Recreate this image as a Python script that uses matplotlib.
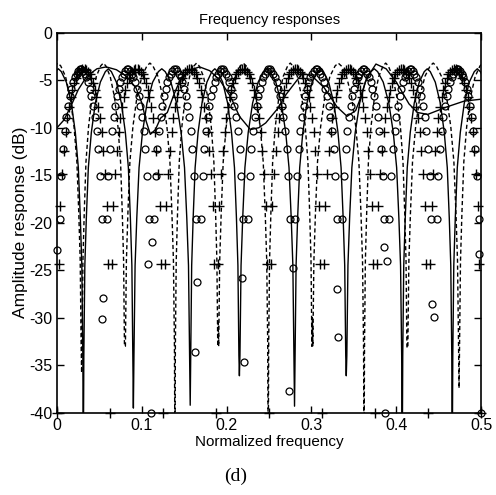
import numpy as np
import matplotlib.pyplot as plt

plt.rcParams['font.family'] = ['Liberation Sans', 'DejaVu Sans']
plt.rcParams['axes.unicode_minus'] = False

# solid curve: null frequencies and how deep each null goes (dB)
solid_nulls = [-0.028, 0.031, 0.090, 0.157, 0.215, 0.280, 0.341, 0.407, 0.466, 0.525]
solid_depths = [-45, -45, -39.5, -39.2, -36.1, -39.3, -36.1, -45, -45, -45]
# dashed curve
dash_nulls = [-0.027, 0.029, 0.080, 0.139, 0.190, 0.249, 0.301, 0.362, 0.413, 0.474, 0.530]
dash_depths = [-45, -35.8, -33.0, -45, -30.5, -45, -30.0, -45, -33.2, -37.4, -45]

# one lobe between two nulls: position as fraction of the lobe, level in dB
lobe_pos = [0.01, 0.03, 0.06, 0.10, 0.16, 0.24, 0.34, 0.44, 0.50, 0.56, 0.66, 0.76, 0.84, 0.90, 0.94, 0.97, 0.99]
solid_lobe_db = [-34, -24.5, -19.5, -14.2, -10.5, -7.4, -5.2, -4.1, -3.8, -4.1, -5.2, -7.4, -10.5, -14.2, -19.5, -24.5, -34]
dash_lobe_db = [-33, -24.0, -19.0, -13.6, -9.9, -6.8, -4.6, -3.5, -3.2, -3.5, -4.6, -6.8, -9.9, -13.6, -19.0, -24.0, -33]

# second solid curve with shallow valleys
solid_b_f = [0.000, 0.008, 0.016, 0.025, 0.035, 0.047, 0.058, 0.070, 0.082, 0.093, 0.100, 0.105,
             0.110, 0.116, 0.122, 0.130, 0.137, 0.145, 0.155, 0.168, 0.180, 0.192, 0.205, 0.215,
             0.228, 0.238, 0.246, 0.261, 0.270, 0.289, 0.300, 0.315, 0.330, 0.342, 0.352, 0.356,
             0.365, 0.376, 0.388, 0.400, 0.415, 0.425, 0.437, 0.460, 0.480, 0.500]
solid_b_db = [-10.0, -9.2, -7.8, -6.0, -4.6, -3.8, -3.6, -3.9, -4.6, -5.8, -7.4, -9.3,
              -10.7, -10.2, -9.0, -8.4, -6.7, -5.0, -4.0, -3.6, -4.0, -5.0, -6.8, -8.8,
              -10.2, -10.0, -9.5, -7.9, -6.5, -4.3, -4.5, -5.8, -7.8, -8.8, -8.2, -7.3,
              -4.8, -3.3, -3.8, -5.2, -7.5, -8.4, -8.6, -7.8, -7.2, -7.0]

# plus markers: nulls, distance from a null and level read at that distance
plus_nulls = [0.0, 0.0625, 0.125, 0.1875, 0.25, 0.3125, 0.375, 0.4375, 0.5]
plus_offsets = [0.002, 0.004, 0.006, 0.008, 0.010, 0.012, 0.014, 0.016, 0.018, 0.020, 0.022, 0.024, 0.026, 0.028, 0.030]
plus_side_db = [-24.3, -18.2, -14.9, -12.4, -10.5, -9.0, -7.8, -6.8, -6.0, -5.3, -4.8, -4.4, -4.1, -3.95, -3.85]

# circle markers
circle_nulls = [0.0, 0.0556, 0.1111, 0.1667, 0.2222, 0.2778, 0.3333, 0.3889, 0.4444, 0.5]
circle_offsets = [0.003, 0.005, 0.007, 0.009, 0.011, 0.013, 0.015, 0.017, 0.019, 0.021, 0.023, 0.025, 0.027]
circle_side_db = [-19.6, -15.1, -12.2, -10.3, -8.9, -7.7, -6.7, -5.9, -5.2, -4.7, -4.3, -4.0, -3.85]
circle_low_f = [0.0, 0.0527, 0.0547, 0.1077, 0.111, 0.1117, 0.163, 0.165, 0.218, 0.220, 0.274, 0.278,
                0.3306, 0.3313, 0.385, 0.387, 0.389, 0.442, 0.444, 0.497, 0.4995]
circle_low_db = [-22.9, -30.1, -27.9, -24.3, -40.0, -22.0, -33.6, -26.2, -25.8, -34.6, -37.7, -24.8,
                 -27.0, -32.0, -22.5, -40.0, -24.0, -28.5, -29.9, -23.3, -40.0]


def build_lobes(nulls, depths, shape):
    f, db = [], []
    for i in range(len(nulls) - 1):
        a, b = nulls[i], nulls[i + 1]
        f.append(a)
        db.append(depths[i])
        for p, v in zip(lobe_pos, shape):
            f.append(a + p * (b - a))
            db.append(v)
    f.append(nulls[-1])
    db.append(depths[-1])
    return f, db


def build_markers(nulls, offsets, levels):
    f, db = [], []
    for c in nulls:
        for d, v in zip(offsets, levels):
            for s in (c - d, c + d):
                if 0 <= s <= 0.5:
                    f.append(s)
                    db.append(v)
    return f, db


fig = plt.figure(figsize=(4.96, 4.95), dpi=100)
ax = fig.add_axes([0.115, 0.166, 0.855, 0.768])

sf, sdb = build_lobes(solid_nulls, solid_depths, solid_lobe_db)
df, ddb = build_lobes(dash_nulls, dash_depths, dash_lobe_db)
ax.plot(sf, sdb, color='black', lw=1.0)
ax.plot(solid_b_f, solid_b_db, color='black', lw=1.0)
ax.plot(df, ddb, color='black', lw=1.0, ls=(0, (3, 2)))

pf, pdb = build_markers(plus_nulls, plus_offsets, plus_side_db)
ax.plot(pf, pdb, '+', color='black', ms=7, mew=1.0, clip_on=False)
ax.plot(plus_nulls, [-40] * len(plus_nulls), '+', color='black', ms=7, mew=1.0, clip_on=False)

cf, cdb = build_markers(circle_nulls, circle_offsets, circle_side_db)
ax.plot(cf, cdb, 'o', mfc='none', mec='black', ms=5, mew=0.9, clip_on=False)
ax.plot(circle_low_f, circle_low_db, 'o', mfc='none', mec='black', ms=5, mew=0.9, clip_on=False)

ax.set_xlim(0, 0.5)
ax.set_ylim(-40, 0)
ax.set_xticks([0, 0.1, 0.2, 0.3, 0.4, 0.5])
ax.set_xticklabels(['0', '0.1', '0.2', '0.3', '0.4', '0.5'])
ax.set_yticks(np.arange(-40, 1, 5))
ax.tick_params(direction='in', top=True, right=True, labelsize=11.5, length=5, width=1.0)
for sp in ax.spines.values():
    sp.set_linewidth(1.2)

ax.set_title('Frequency responses', fontsize=10.5, pad=6)
ax.set_xlabel('Normalized frequency', fontsize=11, labelpad=2)
ax.set_ylabel('Amplitude response (dB)', fontsize=12.5, labelpad=1)
fig.text(0.475, 0.038, '(d)', family='Liberation Serif', fontsize=14, ha='center', va='center')

fig.savefig('out.png', dpi=100)
